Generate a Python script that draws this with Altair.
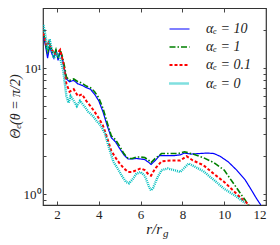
import altair as alt
import pandas as pd

# ---- data ----
series = ["αₑ = 10", "αₑ = 1", "αₑ = 0.1", "αₑ = 0"]

r_a10 = [1.35, 1.45, 1.55, 1.65, 1.75, 1.85, 1.95, 2.05, 2.15, 2.25, 2.35, 2.45, 2.6, 2.8, 3.0, 3.2,
         3.4, 3.6, 3.8, 4.0, 4.2, 4.4, 4.6, 4.8, 5.0, 5.2, 5.4, 5.6, 5.8, 6.0, 6.2, 6.4, 6.5, 6.7,
         6.9, 7.2, 7.6, 7.9, 8.1, 8.4, 8.8, 9.2, 9.5, 9.8, 10.2, 10.6, 11.0, 11.3, 11.55, 11.75]
v_a10 = [18, 15, 12, 15, 13, 12, 14, 11.5, 13.5, 12, 10, 8.2, 7.8, 8.0, 7.5, 7.3,
         7.0, 6.8, 6.2, 5.5, 4.5, 3.5, 2.8, 2.6, 2.3, 2.05, 1.9, 1.9, 1.92, 1.9, 1.88, 1.78, 1.72, 1.85,
         2.02, 2.02, 2.02, 2.05, 2.12, 2.08, 2.1, 2.12, 2.1, 2.0, 1.8, 1.55, 1.3, 1.08, 0.92, 0.82]

r_a1 = [1.35, 1.45, 1.55, 1.65, 1.75, 1.85, 1.95, 2.05, 2.15, 2.25, 2.35, 2.45, 2.6, 2.8, 3.0, 3.2,
        3.4, 3.6, 3.8, 4.0, 4.2, 4.4, 4.6, 4.8, 5.0, 5.2, 5.4, 5.6, 5.8, 6.0, 6.2, 6.4, 6.5, 6.7,
        7.0, 7.4, 7.8, 8.1, 8.5, 9.0, 9.5, 10.0, 10.5, 10.8, 11.0, 11.15]
v_a1 = [19, 16, 13, 15.5, 14, 12.5, 14, 12, 14, 12.5, 10.5, 8.5, 8.0, 8.2, 7.8, 7.6,
        7.2, 7.0, 6.5, 5.8, 4.8, 3.7, 2.9, 2.7, 2.4, 2.1, 1.92, 1.92, 1.97, 1.97, 1.95, 1.85, 1.78, 1.92,
        2.1, 2.1, 2.1, 2.17, 2.08, 1.95, 1.78, 1.55, 1.18, 1.0, 0.9, 0.82]

r_a01 = [1.35, 1.5, 1.6, 1.75, 1.9, 2.0, 2.15, 2.3, 2.45, 2.6, 2.8, 3.0, 3.2, 3.4, 3.6, 3.8, 4.0,
         4.2, 4.4, 4.6, 4.8, 5.0, 5.2, 5.4, 5.6, 5.8, 6.0, 6.2, 6.4, 6.5, 6.7, 7.0, 7.5, 7.9, 8.2,
         8.5, 9.0, 9.5, 10.0, 10.5, 10.9, 11.2]
v_a01 = [19, 15, 16, 14, 13, 13, 14, 11, 7.5, 6.5, 6.8, 6.0, 6.2, 5.5, 5.0, 4.5, 4.0,
         3.5, 2.8, 2.2, 1.95, 1.75, 1.6, 1.5, 1.5, 1.55, 1.6, 1.55, 1.42, 1.4, 1.6, 1.82, 1.85, 1.85, 2.0,
         1.85, 1.7, 1.45, 1.25, 1.04, 0.9, 0.82]

r_a0 = [1.35, 1.45, 1.55, 1.65, 1.75, 1.85, 2.0, 2.15, 2.3, 2.45, 2.55, 2.65, 2.8, 2.95, 3.1, 3.3,
        3.5, 3.7, 3.9, 4.1, 4.3, 4.5, 4.7, 4.9, 5.1, 5.3, 5.45, 5.6, 5.8, 6.0, 6.2, 6.4, 6.5, 6.6,
        6.8, 7.0, 7.3, 7.6, 7.9, 8.1, 8.3, 8.6, 9.0, 9.5, 10.0, 10.5, 11.0]
v_a0 = [22, 18, 14, 17, 14, 12, 13, 12, 9.5, 6.0, 5.3, 6.0, 5.5, 5.0, 5.5, 5.0,
        4.5, 4.2, 3.8, 3.5, 3.0, 2.3, 1.8, 1.6, 1.4, 1.25, 1.22, 1.3, 1.45, 1.5, 1.4, 1.15, 1.07, 1.12,
        1.35, 1.55, 1.6, 1.55, 1.5, 1.62, 1.75, 1.65, 1.52, 1.3, 1.1, 0.98, 0.85]

x_ticks = [2, 4, 6, 8, 10, 12]
y_ticks = [0.9, 1, 2, 3, 4, 5, 6, 7, 8, 9, 10, 20]

colors = ["#0000ff", "#008000", "#ff0000", "#00bfbf"]
dashes = [[1, 0], [6, 2, 1.5, 2], [3, 2], [1, 1]]
widths = [1.2, 2.4, 1.0, 1.5]

rows = []
for name, rs, vs in zip(series, [r_a10, r_a1, r_a01, r_a0], [v_a10, v_a1, v_a01, v_a0]):
    for i, (r, v) in enumerate(zip(rs, vs)):
        rows.append({"series": name, "r": r, "theta": v, "order": i})
df = pd.DataFrame(rows)

FONT = "Liberation Serif"
XDOM = [1.33, 12]
YDOM = [0.82, 30]

x_enc = alt.X("r:Q", scale=alt.Scale(domain=XDOM, nice=False),
              axis=alt.Axis(values=x_ticks, title=None, grid=False, labelFont=FONT, labelFontSize=13,
                            labelColor="#222", tickColor="#444", tickSize={"expr": "-4"},
                            labelPadding=7, domain=False))
y_enc = alt.Y("theta:Q", scale=alt.Scale(type="log", domain=YDOM, nice=False),
              axis=alt.Axis(values=y_ticks, grid=False, labelFont=FONT, labelFontSize=13,
                            labelColor="#222", tickColor="#444", tickSize={"expr": "-3"},
                            labelExpr="datum.value == 1 ? '10⁰' : (datum.value == 10 ? '10¹' : '')",
                            labelPadding=5, domain=False,
                            title="Θₑ(θ = π/2)", titleFont=FONT, titleFontSize=14,
                            titleFontStyle="italic", titleFontWeight="normal", titleColor="#222",
                            titleX=-21, titleY=98, titleBaseline="bottom", titleAngle=270))

legend = alt.Legend(title=None, orient="none", legendX=125, legendY=10,
                    symbolType="stroke", symbolSize=400, labelFont=FONT,
                    labelFontSize=14, labelFontStyle="italic", labelColor="#222",
                    labelOffset=15, rowPadding=0)

lines = alt.Chart(df).mark_line(clip=True).encode(
    x=x_enc,
    y=y_enc,
    order="order:Q",
    color=alt.Color("series:N", sort=series,
                    scale=alt.Scale(domain=series, range=colors), legend=legend),
    strokeDash=alt.StrokeDash("series:N", sort=series,
                              scale=alt.Scale(domain=series, range=dashes), legend=legend),
    strokeWidth=alt.StrokeWidth("series:N", sort=series,
                                scale=alt.Scale(domain=series, range=widths), legend=legend),
)

xt1 = alt.Chart(pd.DataFrame({"t": ["r/r"]})).mark_text(
    font=FONT, fontSize=15, fontStyle="italic", color="#222", align="right", baseline="alphabetic"
).encode(x=alt.value(119), y=alt.value(226), text="t:N")
xt2 = alt.Chart(pd.DataFrame({"t": ["g"]})).mark_text(
    font=FONT, fontSize=11, fontStyle="italic", color="#222", align="left", baseline="alphabetic"
).encode(x=alt.value(120), y=alt.value(229), text="t:N")

# mirrored ticks on top and right
top = alt.Chart(df).mark_line(opacity=0).encode(
    x=alt.X("r:Q", scale=alt.Scale(domain=XDOM, nice=False),
            axis=alt.Axis(orient="top", values=x_ticks, labels=False, title=None, grid=False,
                          tickColor="#444", tickSize={"expr": "-4"}, domain=False)),
    y=alt.Y("theta:Q", scale=alt.Scale(type="log", domain=YDOM, nice=False),
            axis=alt.Axis(orient="right", values=y_ticks, labels=False, title=None, grid=False,
                          tickColor="#444", tickSize={"expr": "-3"}, domain=False)),
    detail="series:N",
)

chart = alt.layer(lines, top, xt1, xt2).resolve_axis(x="independent", y="independent").properties(
    width=223, height=197,
    autosize=alt.AutoSizeParams(type="none"),
    padding={"left": 35, "top": 0, "right": 5, "bottom": 37},
).configure_view(stroke="#333", strokeWidth=1.2)

chart.save("out.html", embed_options={"renderer": "svg", "actions": False})
